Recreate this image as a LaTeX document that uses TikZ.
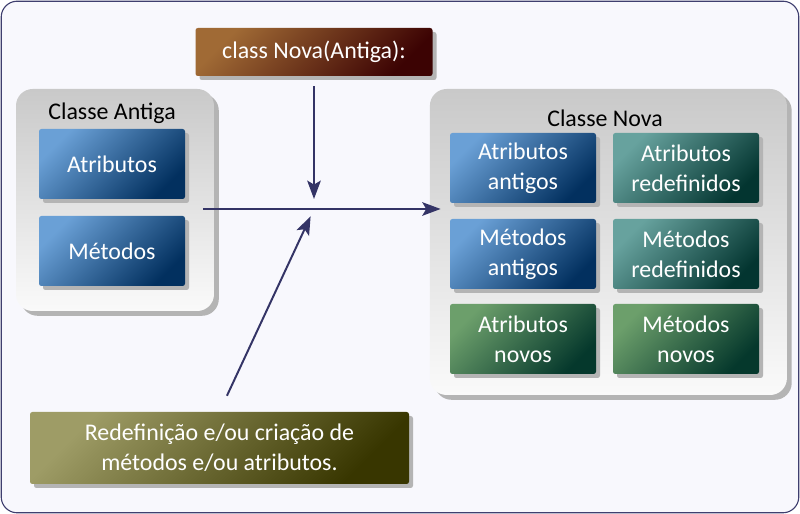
\documentclass[tikz,border=0pt]{standalone}
\usepackage{fontspec}
\setmainfont{Carlito}
\usetikzlibrary{arrows.meta,positioning,shadows}
\definecolor{bgfill}{HTML}{F8F8FD}
\definecolor{frame}{HTML}{3F3F6F}
\definecolor{navy}{HTML}{343466}
\definecolor{pnltop}{HTML}{C9C9C9}
\definecolor{pnlbot}{HTML}{FAFAFA}
\definecolor{shd}{HTML}{B4B4B4}
\definecolor{bluetl}{HTML}{6AA0D6}
\definecolor{bluebr}{HTML}{02305F}
\definecolor{tealtl}{HTML}{67A29E}
\definecolor{tealbr}{HTML}{033530}
\definecolor{greentl}{HTML}{6C9F6B}
\definecolor{greenbr}{HTML}{05382C}
\definecolor{browntl}{HTML}{A06A35}
\definecolor{brownbr}{HTML}{3C0303}
\definecolor{olivetl}{HTML}{9E9C66}
\definecolor{olivebr}{HTML}{383600}
\newcommand\boxfont{\fontsize{17}{21.3}\selectfont}
\tikzset{
  panelbox/.style={rounded corners=0.42cm, top color=pnltop, bottom color=pnlbot,
                   drop shadow={shadow xshift=0.12cm, shadow yshift=-0.12cm, fill=shd, opacity=1}},
  cellbox/.style={rounded corners=0.06cm, minimum width=3.65cm, minimum height=1.75cm,
                  inner sep=0pt, align=center, text=white, font=\boxfont,
                  drop shadow={shadow xshift=0.1cm, shadow yshift=-0.1cm, fill=shd, opacity=1}},
  bluebox/.style={cellbox, left color=bluetl, right color=bluebr, shading angle=45},
  tealbox/.style={cellbox, left color=tealtl, right color=tealbr, shading angle=45},
  greenbox/.style={cellbox, left color=greentl, right color=greenbr, shading angle=45},
  brownbox/.style={cellbox, left color=browntl, right color=brownbr, shading angle=45},
  olivebox/.style={cellbox, left color=olivetl, right color=olivebr, shading angle=45},
  titlebox/.style={font=\boxfont, text=black, inner sep=0pt},
  arr/.style={-{Stealth[length=4.6mm, width=3.4mm, inset=1mm]}, line width=1.4pt, color=navy}}

\begin{document}
\begin{tikzpicture}
    \useasboundingbox (0,0) rectangle (20,12.85);
    \draw[draw=frame, fill=bgfill, rounded corners=0.4cm, line width=0.8pt]
      (0.03,0.03) rectangle (19.97,12.82);
    \node[panelbox, minimum width=4.95cm, minimum height=5.55cm] (antiga) at (2.875,7.85) {};
    \node[titlebox] (antigatit) at (2.8,10.025) {Classe Antiga};
    \node[bluebox] (atrib) at (2.8,8.75) {Atributos};
    \node[bluebox] (metod) at (2.8,6.575) {Métodos};
    \node[brownbox, minimum width=5.925cm, minimum height=1.2cm] (decl) at (7.85,11.55)
      {class Nova(Antiga):};
    \node[panelbox, minimum width=8.925cm, minimum height=7.65cm] (nova) at (15.21,6.8) {};
    \node[titlebox] (novatit) at (15.125,9.9) {Classe Nova};
    \node[bluebox] (atribant) at (13.075,8.65) {Atributos\\antigos};
    \node[tealbox] (atribred) at (17.15,8.65) {Atributos\\redefinidos};
    \node[bluebox] (metodant) at (13.075,6.5) {Métodos\\antigos};
    \node[tealbox] (metodred) at (17.15,6.5) {Métodos\\redefinidos};
    \node[greenbox] (atribnov) at (13.075,4.375) {Atributos\\novos};
    \node[greenbox] (metodnov) at (17.15,4.375) {Métodos\\novos};
    \node[olivebox, minimum width=9.475cm, minimum height=1.8cm] (redef) at (5.4875,1.65)
      {Redefinição e/ou criação de\\métodos e/ou atributos.};
    \coordinate (hub) at (7.85,7.625);
    \draw[arr, shorten <=0.25cm, shorten >=0.25cm] (decl.south) -- (hub);
    \draw[arr] ([xshift=-0.275cm]antiga.east |- hub) -- ([xshift=0.275cm]nova.west |- hub);
    \draw[arr, shorten <=0.44cm, shorten >=0.2cm] (redef.north) -- (hub);
  \end{tikzpicture}
\end{document}
